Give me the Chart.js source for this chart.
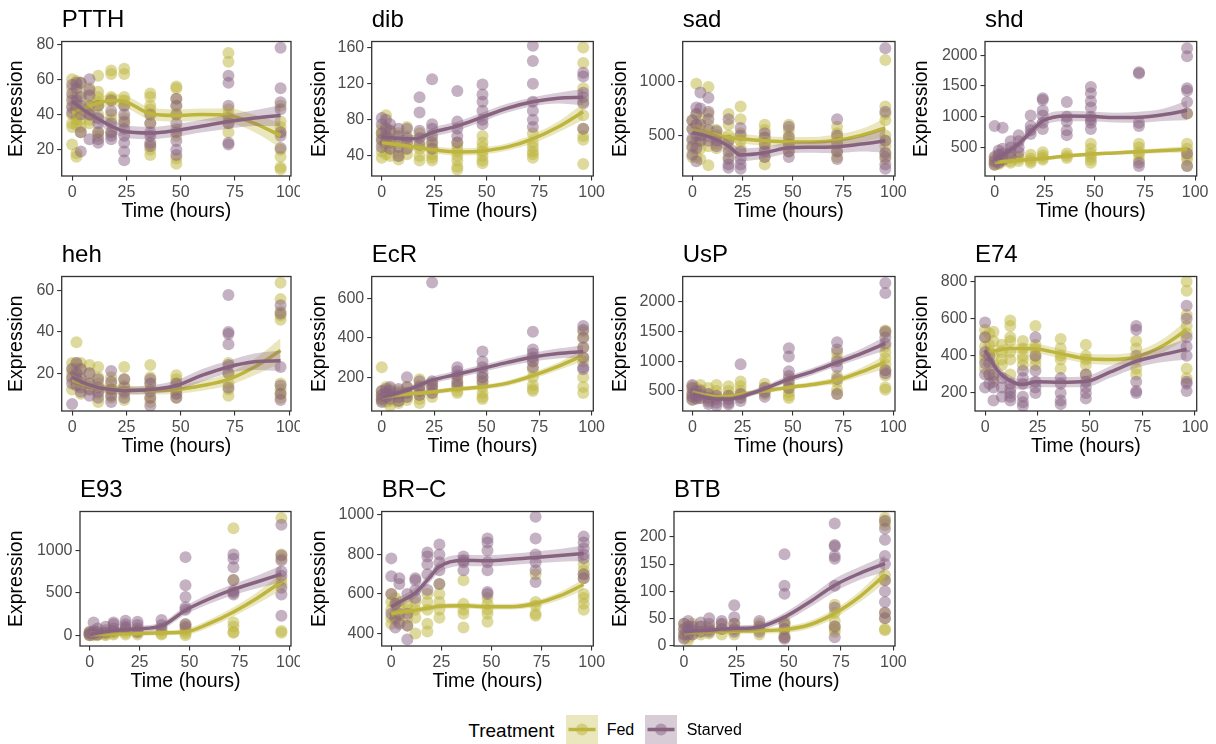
<!DOCTYPE html>
<html>
<head>
<meta charset="utf-8">
<title>Gene expression over time, Fed vs Starved</title>
<script src="https://cdn.jsdelivr.net/npm/chart.js@4.4.1/dist/chart.umd.min.js"></script>
<style>
  html, body { margin: 0; padding: 0; background: #ffffff; }
  #wrap { position: relative; width: 1216px; height: 744px; overflow: hidden;
          font-family: 'Liberation Sans', Arial, Helvetica, sans-serif; }
  canvas.panel, canvas.key { position: absolute; }
  .lg { position: absolute; white-space: nowrap; color: #000; }
</style>
</head>
<body>
<div id="wrap"></div>
<script>
// ---- sampling times and axis ticks ----
const times    = [0, 2, 4, 8, 12, 18, 24, 36, 48, 72, 96];
const fitTimes = [0, 6, 12, 18, 24, 36, 48, 60, 72, 84, 96];
const xTicks   = [0, 25, 50, 75, 100];
const genes    = ['PTTH', 'dib', 'sad', 'shd', 'heh', 'EcR', 'UsP', 'E74', 'E93', 'BR\u2212C', 'BTB'];
const treatments = ['Fed', 'Starved'];

// ---- PTTH ----
const PTTH_fed = [[60,55,50,45,40,35,33,23],[59,57,50,45,39,37,34,18,16],[58,52,42,37,33,30],[55,50,45,40,37,35],[62,53,50,47,45,40,30,28],[65,63,50,49,48,40,37,30],[66,63,50,48,45,38,35],[52,50,45,43,40,35,23,20,17],[56,55,49,45,40,32,28,15,12],[75,70,43,40,35,30],[45,36,33,30,20,16,10,9]];
const PTTH_starved = [[57,52,48,44,41],[58,55,48,44],[58,50,45,40,30,19],[60,54,51,45,40,26],[45,38,35,30,26,24],[48,42,35,30,28,26],[45,40,36,32,28,24,19,14],[40,35,30,28,24,22],[49,45,40,35,30,25,20,17],[62,58,45,38,35,24,23],[78,55,47,43,30,28,21]];
const PTTH_fedFit = [41,44,46.5,48,47.5,40.5,39.5,40,39.5,35,28];
const PTTH_fedCI  = [5,4,3.5,3.5,3.5,3.5,3.5,3.5,4,5,7];
const PTTH_starvedFit = [47.5,42,37.5,33.5,30.5,29.5,31,33.5,36,38,39.5];
const PTTH_starvedCI  = [5,4,3.5,3.5,3.5,3.5,3.5,3.5,4,4.5,6];
const PTTH_yTicks = [20,40,60,80];
const PTTH_yRange = [5.1,81.5];

// ---- dib ----
const dib_fed = [[70,65,60,55,45,38],[85,72,65,58,50,42],[68,60,55,48,40],[65,55,45,40,36],[72,62,55,48,42],[65,55,48,40,35],[58,52,48,42,38,35],[55,50,45,40,35,28,25],[62,55,50,45,40,35,32],[65,55,50,45,42,38],[160,143,115,100,85,70,62,58,31]];
const dib_starved = [[82,75,65,58,50],[80,70,62,55],[75,68,55,48],[70,62,50,40],[70,60,55,48],[105,88,68,60,52],[125,75,70,62,55,48],[112,78,70,62,55],[119,108,100,90,80,75],[162,145,120,100,90,80,72],[132,128,110,105,98,70]];
const dib_fedFit = [55,53,51,49,47,44.5,45.5,50,59,72,89];
const dib_fedCI  = [5,4,4,4,4,4,4,4,5,6,9];
const dib_starvedFit = [61,60,59,60,66,73,83,93,100,104,105];
const dib_starvedCI  = [5,4,4,4,5,5,5,5,5,6,9];
const dib_yTicks = [40,80,120,160];
const dib_yRange = [17.8,166.7];

// ---- sad ----
const sad_fed = [[640,560,450,380,300],[980,700,600,450,400,300],[650,550,450,380,280],[950,700,600,500,400,222],[550,480,420,380],[700,600,500,450,380,300],[770,650,520,450,380],[600,550,480,420,380,300,230],[600,550,500,450,400,350],[580,520,480,420,350,300],[1200,770,700,640,500,450,400,330,280]];
const sad_starved = [[640,560,470,400,320],[760,700,600,500,380,260],[900,750,600,500,450],[850,720,650,550,450],[540,500,450,400],[650,450,350,280,230,200],[570,500,350,280,230,190],[520,480,420,350,300],[580,480,420,350,300],[650,500,430,350,280],[1310,720,450,340,300,230,190]];
const sad_fedFit = [550,530,505,480,470,450,440,440,455,500,570];
const sad_fedCI  = [60,50,45,45,45,45,45,45,55,60,90];
const sad_starvedFit = [525,500,460,400,320,340,385,390,395,420,450];
const sad_starvedCI  = [60,55,50,55,60,55,50,50,60,70,110];
const sad_yTicks = [500,1000];
const sad_yRange = [123,1373];

// ---- shd ----
const shd_fed = [[330,280,250,220],[380,300,260,230],[350,300,270],[330,280,250],[350,320,280],[380,320,280,250],[420,370,330,300],[400,360,330],[560,480,400,350,300,250],[560,500,420,380,300],[1050,560,480,400,350,300,200]];
const shd_starved = [[850,350,280,220],[450,380,300,250],[820,480,400,300],[600,500,420,350],[700,600,500,420],[1020,850,780,720],[1300,1270,1100,1020,900,800],[1240,1000,920,780,700],[1480,1380,1250,1150,1000,950,900,800],[1720,1700,900,850,250,200],[2110,1980,1460,1420,1240,1050,400,200]];
const shd_fedFit = [255,275,290,305,320,360,390,410,430,450,470];
const shd_fedCI  = [40,30,30,30,30,30,30,30,35,40,55];
const shd_starvedFit = [290,420,560,750,930,1010,1005,985,990,1030,1100];
const shd_starvedCI  = [70,60,60,70,80,85,80,80,90,100,160];
const shd_yTicks = [500,1000,1500,2000];
const shd_yRange = [36,2221];

// ---- heh ----
const heh_fed = [[25,22,20,17,12],[35,25,22,20,17,15],[25,22,18,14,10],[24,20,15,12],[23,18,15,10,6],[18,15,12,10,8],[23,17,14,10,7],[24,18,15,12,8,6],[19,17,15,12,10,8],[25,20,15,12,9],[64,56,50,48,46,15,12,10,8]];
const heh_starved = [[22,18,15,5],[25,20,17,14],[22,17,13,11],[20,15,12,9],[17,13,11,8],[21,16,12,9,6],[17,13,11,8],[17,15,11,8,4],[15,12,10,8],[58,40,39,34,24,20,13],[53,49,23,14,10,7]];
const heh_fedFit = [16.5,14.5,13,12.5,12,11.5,12,14,17,23,31];
const heh_fedCI  = [3,2.5,2,2,2,2,2,2.5,3,4,6];
const heh_starvedFit = [18,15,13,12,11.5,12,14,19,23,25.5,26];
const heh_starvedCI  = [3,2.5,2,2,2,2,2.5,3,3,4,5];
const heh_yTicks = [20,40,60];
const heh_yRange = [1.6,67];

// ---- EcR ----
const EcR_fed = [[250,130,110,100,90,80],[150,130,110,90,75],[140,120,100,80,55],[130,110,95,80,70],[150,120,100,85],[190,160,130,110,90,70],[170,150,120,100],[200,170,150,130,120],[200,170,150,120,100,90],[280,240,200,160,140,130],[430,400,350,300,280,200,150,120]];
const EcR_starved = [[130,110,90,75],[140,120,100],[150,130,110,90],[140,120,100,80],[200,150,120,100],[180,150,130,110],[680,180,160,140,120],[250,230,210,180,160],[330,280,250,220,200,180],[430,340,320,300,280,250],[460,440,400,350,300,250,240]];
const EcR_fedFit = [100,108,115,120,125,140,150,170,208,255,310];
const EcR_fedCI  = [15,12,12,12,12,12,12,14,16,20,28];
const EcR_starvedFit = [100,115,135,160,185,215,245,275,302,320,330];
const EcR_starvedCI  = [18,15,15,15,18,18,18,20,22,25,32];
const EcR_yTicks = [200,400,600];
const EcR_yRange = [29,710];

// ---- UsP ----
const UsP_fed = [[580,500,450,400,350],[550,480,420,380],[600,520,450,380],[550,450,400,350],[600,500,420,380],[580,500,420,380],[660,580,500,450,400],[620,560,500,450],[700,600,550,480,420,380],[1150,1050,750,650,520,450],[1520,1480,1250,1150,1050,950,850,760,560,520]];
const UsP_starved = [[600,550,450,400,350],[500,420,370],[500,430,380],[450,380,320,280],[420,350,300,250],[420,350,300,270],[950,450,380,330],[550,480,400],[1220,1080,830,750,650,550],[1320,1200,1000,900,700,450],[2320,2150,1500,1400,1300,850,800]];
const UsP_fedFit = [470,430,400,410,440,500,560,610,680,820,990];
const UsP_fedCI  = [50,40,40,40,40,40,40,45,55,70,110];
const UsP_starvedFit = [450,400,365,365,400,540,700,830,980,1130,1300];
const UsP_starvedCI  = [50,40,40,40,45,50,55,60,65,80,120];
const UsP_yTicks = [500,1000,1500,2000];
const UsP_yRange = [162,2429];

// ---- E74 ----
const E74_fed = [[540,500,450,400,380,330],[520,460,420,300],[530,480,400,350,280],[460,420,380,350],[590,560,500,480,420,380,300],[480,440,400,380,350],[560,460,440,400,380,350],[490,440,400,380,330],[460,400,380,350,300],[480,440,380,330,300],[800,750,620,560,520,330,280]];
const E74_starved = [[580,500,420,360,300,230],[400,360,300,250],[300,260,230,160],[280,230,180],[250,220,200,180,160],[320,280,250,180,150,130],[500,400,320,260,230,200],[280,250,200,160,140],[300,260,230,200,170],[560,540,400,260,210,200],[670,600,500,450,400,260,250,210]];
const E74_fedFit = [420,430,440,440,438,412,385,380,395,450,540];
const E74_fedCI  = [35,28,25,25,25,25,25,28,30,35,50];
const E74_starvedFit = [430,320,265,245,260,258,262,315,370,405,435];
const E74_starvedCI  = [40,30,28,28,28,28,30,32,35,40,55];
const E74_yTicks = [200,400,600,800];
const E74_yRange = [103,827];

// ---- E93 ----
const E93_fed = [[40,20,10,0],[30,10,0],[30,10,0],[30,10,0],[40,20,10],[60,30,10],[60,30,10],[50,20,10],[130,80,50,20,0],[1260,650,150,100,40,30],[1380,950,900,650,600,50,30]];
const E93_starved = [[40,20,0],[150,50,20],[80,40,10],[100,60,30],[150,130,80,50],[170,130,100,80],[160,120,80,40],[180,120,80],[920,590,450,330,300,130,100],[950,900,800,650,520,500,480],[1300,940,880,750,700,560,480,230]];
const E93_fedFit = [10,12,15,18,22,30,40,140,275,440,630];
const E93_fedCI  = [40,30,30,30,30,30,35,45,55,70,100];
const E93_starvedFit = [10,35,55,65,75,110,295,430,540,630,720];
const E93_starvedCI  = [40,35,35,35,35,40,50,60,65,75,100];
const E93_yTicks = [0,500,1000];
const E93_yRange = [-126,1457];

// ---- BR-C ----
const BRC_fed = [[600,560,520,480,450],[580,550,500,470],[560,530,490,460],[550,520,480,440],[560,520,480,400],[600,560,520,450,410],[650,600,560,520,480],[670,550,520,500,430],[580,550,520,500,460],[700,560,540,500,490],[750,720,700,680,600,580,550,520]];
const BRC_starved = [[780,690,600,500],[550,480,430],[680,650,500,450],[600,500,440,370],[680,670,620,580],[810,790,750,700,620],[850,800,760,720,650],[790,770,760,720],[880,860,820,760,720,610,600],[990,880,800,760,720,660],[890,860,830,800,780,700,680]];
const BRC_fedFit = [500,510,518,528,538,540,536,536,552,590,648];
const BRC_fedCI  = [18,15,14,14,14,14,14,14,16,20,28];
const BRC_starvedFit = [535,570,606,670,738,770,768,775,785,795,805];
const BRC_starvedCI  = [30,25,25,25,28,28,28,28,30,32,40];
const BRC_yTicks = [400,600,800,1000];
const BRC_yRange = [337,1017];

// ---- BTB ----
const BTB_fed = [[40,30,20,15],[35,25,15,10],[40,30,20],[35,25,20],[35,28,22],[38,30,20],[40,30,20],[40,30,20],[45,40,30,20,15],[75,60,45,35,30,25],[235,228,222,130,120,60,50,30,28]];
const BTB_starved = [[40,30,20,12],[45,35,28,20],[35,28,20],[42,35,25],[50,40,30,25],[45,40,30],[74,52,40,30,25],[45,35,25],[168,110,95,40,30,15,12],[225,185,183,165,160,110,70,35,15],[230,215,195,165,150,120,100,80,60,50]];
const BTB_fedFit = [23,24,25,25.5,26,27,29,38,59,90,130];
const BTB_fedCI  = [6,5,5,5,5,5,6,7,8,10,15];
const BTB_starvedFit = [25,27,28,30,31,34,52,80,111,133,151];
const BTB_starvedCI  = [7,6,6,6,6,6,8,10,12,12,15];
const BTB_yTicks = [0,50,100,150,200];
const BTB_yRange = [-1.2,247];

// ---- panel table built from the arrays above ----
const panelData = [
  [PTTH_fed, PTTH_starved, PTTH_fedFit, PTTH_fedCI, PTTH_starvedFit, PTTH_starvedCI, PTTH_yTicks, PTTH_yRange],
  [dib_fed, dib_starved, dib_fedFit, dib_fedCI, dib_starvedFit, dib_starvedCI, dib_yTicks, dib_yRange],
  [sad_fed, sad_starved, sad_fedFit, sad_fedCI, sad_starvedFit, sad_starvedCI, sad_yTicks, sad_yRange],
  [shd_fed, shd_starved, shd_fedFit, shd_fedCI, shd_starvedFit, shd_starvedCI, shd_yTicks, shd_yRange],
  [heh_fed, heh_starved, heh_fedFit, heh_fedCI, heh_starvedFit, heh_starvedCI, heh_yTicks, heh_yRange],
  [EcR_fed, EcR_starved, EcR_fedFit, EcR_fedCI, EcR_starvedFit, EcR_starvedCI, EcR_yTicks, EcR_yRange],
  [UsP_fed, UsP_starved, UsP_fedFit, UsP_fedCI, UsP_starvedFit, UsP_starvedCI, UsP_yTicks, UsP_yRange],
  [E74_fed, E74_starved, E74_fedFit, E74_fedCI, E74_starvedFit, E74_starvedCI, E74_yTicks, E74_yRange],
  [E93_fed, E93_starved, E93_fedFit, E93_fedCI, E93_starvedFit, E93_starvedCI, E93_yTicks, E93_yRange],
  [BRC_fed, BRC_starved, BRC_fedFit, BRC_fedCI, BRC_starvedFit, BRC_starvedCI, BRC_yTicks, BRC_yRange],
  [BTB_fed, BTB_starved, BTB_fedFit, BTB_fedCI, BTB_starvedFit, BTB_starvedCI, BTB_yTicks, BTB_yRange]
];

// ---- layout (pixels) ----
const colX = [0, 303, 604, 905];
const colW = [300, 302, 303, 311];
const rowY = [0, 235, 470];
const rowH = 235;
const plotRight = [291, 593.3, 895, 1196.7];
const plotLeftOffset = [61.7, 68.7, 78.7, 80, 61.7, 68.7, 78.7, 70, 80, 78.7, 70];
const topPad = 41.5;
const xAxisH = 59;

// ---- styles ----
const FONT = "'Liberation Sans', Arial, Helvetica, sans-serif";
Chart.defaults.font.family = FONT;
const COLORS = {
  Fed:     { line: 'rgb(190,181,62)',  point: 'rgba(190,181,62,0.5)',  band: 'rgba(190,181,62,0.33)' },
  Starved: { line: 'rgb(135,99,128)',  point: 'rgba(138,100,131,0.5)', band: 'rgba(138,100,131,0.33)' }
};
const AXIS_COL = '#333333';
const TICK_TXT = '#4D4D4D';

const panelDeco = {
  id: 'panelDeco',
  afterDraw(chart, args, opts) {
    const { ctx, chartArea: a } = chart;
    ctx.save();
    ctx.strokeStyle = AXIS_COL;
    ctx.lineWidth = 1.3;
    ctx.strokeRect(a.left, a.top, a.right - a.left, a.bottom - a.top);
    ctx.fillStyle = '#000';
    ctx.font = '24px ' + FONT;
    ctx.textAlign = 'left';
    ctx.textBaseline = 'alphabetic';
    ctx.fillText(opts.text, a.left, a.top - 14.5);
    ctx.restore();
  }
};

function scatterPoints(perTime) {
  const pts = [];
  perTime.forEach((vals, i) => vals.forEach(v => pts.push({ x: times[i], y: v })));
  return pts;
}
function curve(values, offsets, sign) {
  return fitTimes.map((t, i) => ({ x: t, y: values[i] + (offsets ? sign * offsets[i] : 0) }));
}
const hidden = 'rgba(0,0,0,0)';

function buildDatasets(fed, starved, fedFit, fedCI, stFit, stCI) {
  const ds = [];
  ds.push({ label: 'Fed', data: scatterPoints(fed), pointRadius: 6, pointBackgroundColor: COLORS.Fed.point,
            pointBorderColor: hidden, pointBorderWidth: 0, showLine: false, order: 10 });
  ds.push({ label: 'Starved', data: scatterPoints(starved), pointRadius: 6, pointBackgroundColor: COLORS.Starved.point,
            pointBorderColor: hidden, pointBorderWidth: 0, showLine: false, order: 9 });
  const groups = [['Fed', fedFit, fedCI, 8], ['Starved', stFit, stCI, 5]];
  groups.forEach(([name, fit, ci, ord]) => {
    ds.push({ label: name + ' lower', data: curve(fit, ci, -1), showLine: true, pointRadius: 0,
              borderColor: hidden, borderWidth: 0, fill: false, cubicInterpolationMode: 'monotone', order: ord });
    ds.push({ label: name + ' upper', data: curve(fit, ci, 1), showLine: true, pointRadius: 0,
              borderColor: hidden, borderWidth: 0, fill: '-1', backgroundColor: COLORS[name].band,
              cubicInterpolationMode: 'monotone', order: ord - 1 });
    ds.push({ label: name + ' fit', data: curve(fit, null, 0), showLine: true, pointRadius: 0,
              borderColor: COLORS[name].line, borderWidth: 3.5, fill: false,
              cubicInterpolationMode: 'monotone', order: ord - 2 });
  });
  return ds;
}

const wrap = document.getElementById('wrap');
const plainNumber = v => String(v);

genes.forEach((gene, k) => {
  const row = Math.floor(k / 4), col = k % 4;
  const [fed, starved, fedFit, fedCI, stFit, stCI, yTicks, yRange] = panelData[k];
  const cw = (k === 10) ? colW[col] + 24 : colW[col];
  const rightPad = colX[col] + cw - plotRight[col];
  const cv = document.createElement('canvas');
  cv.className = 'panel';
  cv.width = cw; cv.height = rowH;
  cv.style.left = colX[col] + 'px';
  cv.style.top = rowY[row] + 'px';
  cv.style.width = cw + 'px'; cv.style.height = rowH + 'px';
  wrap.appendChild(cv);

  const leftW = plotLeftOffset[k];
  const gridOpts = { drawOnChartArea: false, drawTicks: true, tickLength: 4.5, color: AXIS_COL, lineWidth: 1.1 };

  new Chart(cv, {
    type: 'scatter',
    data: { datasets: buildDatasets(fed, starved, fedFit, fedCI, stFit, stCI) },
    options: {
      responsive: false,
      animation: false,
      events: [],
      layout: { padding: { left: 0, top: topPad, right: rightPad, bottom: 0 } },
      plugins: { legend: { display: false }, tooltip: { enabled: false }, panelDeco: { text: gene } },
      scales: {
        x: {
          type: 'linear', min: -4.8, max: 100.8,
          afterBuildTicks: s => { s.ticks = xTicks.map(v => ({ value: v })); },
          afterFit: s => { s.height = xAxisH; s.paddingLeft = 0; s.paddingRight = 0; },
          grid: gridOpts,
          border: { display: false },
          ticks: { font: { size: 16, lineHeight: 1 }, color: TICK_TXT, padding: 4.2, maxRotation: 0,
                   autoSkip: false, callback: plainNumber },
          title: { display: true, text: 'Time (hours)', color: '#000',
                   font: { size: 19.5, lineHeight: 1 }, padding: { top: 0, bottom: 13.5 } }
        },
        y: {
          type: 'linear', min: yRange[0], max: yRange[1],
          afterBuildTicks: s => { s.ticks = yTicks.map(v => ({ value: v })); },
          afterFit: s => { s.width = leftW; s.paddingTop = 0; s.paddingBottom = 0; },
          grid: gridOpts,
          border: { display: false },
          ticks: { font: { size: 16, lineHeight: 1 }, color: TICK_TXT, padding: 3, autoSkip: false,
                   callback: plainNumber },
          title: { display: true, text: 'Expression', color: '#000',
                   font: { size: 19.5, lineHeight: 1 }, padding: { top: 7.25, bottom: 0 } }
        }
      }
    },
    plugins: [panelDeco]
  });
});

// ---- legend ----
function addText(txt, left, centerY, size) {
  const s = document.createElement('span');
  s.className = 'lg';
  s.textContent = txt;
  s.style.left = left + 'px';
  s.style.fontSize = size + 'px';
  s.style.lineHeight = size + 'px';
  s.style.top = (centerY - size / 2) + 'px';
  wrap.appendChild(s);
}
function addKey(name, left, top) {
  const w = 32, h = 29;
  const c = document.createElement('canvas');
  c.className = 'key';
  c.width = w; c.height = h;
  c.style.left = left + 'px'; c.style.top = top + 'px';
  c.style.width = w + 'px'; c.style.height = h + 'px';
  wrap.appendChild(c);
  const g = c.getContext('2d');
  g.fillStyle = COLORS[name].band;
  g.fillRect(0, 0, w, h);
  g.fillStyle = COLORS[name].point;
  g.beginPath(); g.arc(w / 2, h / 2, 6, 0, Math.PI * 2); g.fill();
  g.strokeStyle = COLORS[name].line;
  g.lineWidth = 3.5;
  g.beginPath(); g.moveTo(2.5, h / 2); g.lineTo(w - 2.5, h / 2); g.stroke();
}
addText('Treatment', 468.3, 730, 19);
addKey(treatments[0], 566, 715);
addText(treatments[0], 606.7, 730, 16);
addKey(treatments[1], 645, 715);
addText(treatments[1], 686.7, 730, 16);
</script>
</body>
</html>
